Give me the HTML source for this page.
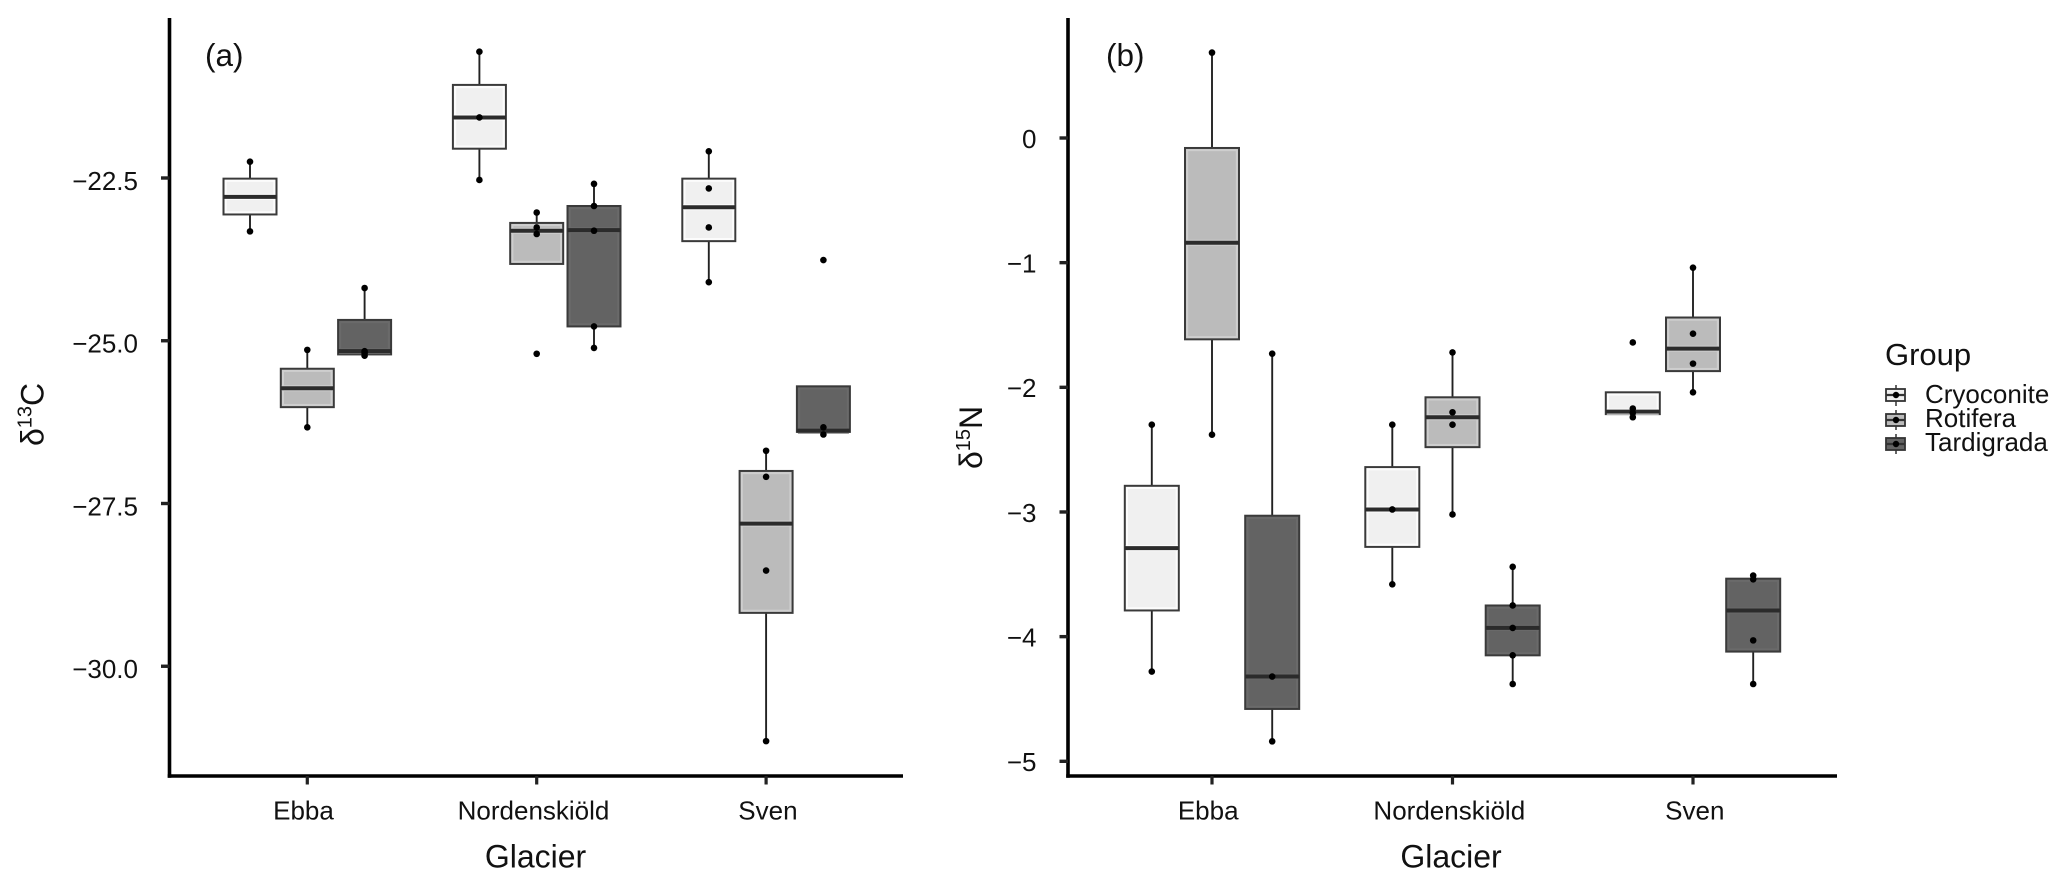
<!DOCTYPE html>
<html lang="en">
<head>
<meta charset="utf-8">
<title>Isotope boxplots by glacier</title>
<style>
  html, body { margin: 0; padding: 0; background: #fff; }
  #figure { display: block; width: 2067px; height: 887px; }
  text { font-family: "Liberation Sans", sans-serif; fill: #111; }
</style>
</head>
<body>
<svg id="figure" xmlns="http://www.w3.org/2000/svg" width="2067" height="887" viewBox="0 0 2067 887">
  <rect x="0" y="0" width="2067" height="887" fill="#ffffff"/>

  <g id="panel-a">
    <text x="205" y="66" font-size="31.5">(a)</text>
    <text transform="translate(43.5,446) rotate(-90)" font-size="32">δ<tspan font-size="20" dy="-12">13</tspan><tspan dy="12">C</tspan></text>
    <text x="535.5" y="867.5" font-size="32" text-anchor="middle">Glacier</text>
  </g>

  <g id="panel-b">
    <text x="1106" y="66" font-size="31.5">(b)</text>
    <text transform="translate(982,469) rotate(-90)" font-size="32">δ<tspan font-size="20" dy="-12">15</tspan><tspan dy="12">N</tspan></text>
    <text x="1451" y="867.5" font-size="32" text-anchor="middle">Glacier</text>
  </g>

  <g>
    <text x="1885" y="365" font-size="31">Group</text>
    <g>
      <line x1="1896" x2="1896" y1="385" y2="406" stroke="#333" stroke-width="1.5"/>
      <rect x="1886" y="389" width="19" height="12" fill="#f0f0f0" stroke="#333" stroke-width="1.8"/>
      <line x1="1886" x2="1905" y1="395" y2="395" stroke="#333" stroke-width="2.2"/>
      <circle cx="1896" cy="395" r="3.2" fill="#000"/>
      <text x="1925" y="403" font-size="26">Cryoconite</text>
    </g>
    <g>
      <line x1="1896" x2="1896" y1="410" y2="430" stroke="#333" stroke-width="1.5"/>
      <rect x="1886" y="414" width="19" height="12" fill="#bbbbbb" stroke="#333" stroke-width="1.8"/>
      <line x1="1886" x2="1905" y1="420" y2="420" stroke="#333" stroke-width="2.2"/>
      <circle cx="1896" cy="420" r="3.2" fill="#000"/>
      <text x="1925" y="427" font-size="26">Rotifera</text>
    </g>
    <g>
      <line x1="1896" x2="1896" y1="434" y2="454" stroke="#333" stroke-width="1.5"/>
      <rect x="1886" y="438" width="19" height="12" fill="#636363" stroke="#333" stroke-width="1.8"/>
      <line x1="1886" x2="1905" y1="444" y2="444" stroke="#333" stroke-width="2.2"/>
      <circle cx="1896" cy="444" r="3.2" fill="#000"/>
      <text x="1925" y="451" font-size="26">Tardigrada</text>
    </g>
  </g>
</svg>

<script>
// Shared categories (rows = glaciers, columns = groups)
const glaciers = ["Ebba", "Nordenskiöld", "Sven"];
const groups = ["Cryoconite", "Rotifera", "Tardigrada"];
const groupFills = ["#f0f0f0", "#bbbbbb", "#636363"];
const groupHalos = ["#fcfcfc", "#cecece", "#6a6a6a"];

// Panel (a): delta 13C
const carbonTicks = [-22.5, -25, -27.5, -30];
const carbonTickLabels = ["−22.5", "−25.0", "−27.5", "−30.0"];
const carbonWhiskerHigh = [[-22.25, -25.14, -24.19], [-20.56, -23.03, -22.59], [-22.09, -26.69, -25.70]];
const carbonQ3 = [[-22.51, -25.43, -24.68], [-21.07, -23.19, -22.93], [-22.51, -27.00, -25.70]];
const carbonMedian = [[-22.79, -25.73, -25.16], [-21.57, -23.31, -23.30], [-22.95, -27.81, -26.38]];
const carbonQ1 = [[-23.06, -26.02, -25.21], [-22.05, -23.82, -24.78], [-23.47, -29.18, -26.40]];
const carbonWhiskerLow = [[-23.32, -26.33, -25.21], [-22.53, -23.82, -25.11], [-24.10, -31.15, -26.40]];
const carbonPoints = [
  [[-22.25, -23.32], [-25.14, -26.33], [-24.19, -25.16, -25.19, -25.23]],
  [[-20.56, -21.57, -22.53], [-23.03, -23.26, -23.36, -25.20], [-22.59, -22.93, -23.31, -24.78, -25.11]],
  [[-22.09, -22.66, -23.26, -24.10], [-26.69, -27.09, -28.53, -31.15], [-23.76, -26.33, -26.44]]
];

// Panel (b): delta 15N
const nitrogenTicks = [0, -1, -2, -3, -4, -5];
const nitrogenTickLabels = ["0", "−1", "−2", "−3", "−4", "−5"];
const nitrogenWhiskerHigh = [[-2.30, 0.685, -1.73], [-2.30, -1.72, -3.44], [-2.04, -1.04, -3.51]];
const nitrogenQ3 = [[-2.79, -0.08, -3.03], [-2.64, -2.08, -3.75], [-2.04, -1.44, -3.535]];
const nitrogenMedian = [[-3.29, -0.84, -4.32], [-2.98, -2.24, -3.93], [-2.195, -1.69, -3.79]];
const nitrogenQ1 = [[-3.79, -1.615, -4.58], [-3.28, -2.48, -4.15], [-2.215, -1.87, -4.12]];
const nitrogenWhiskerLow = [[-4.28, -2.38, -4.84], [-3.58, -3.02, -4.38], [-2.215, -2.04, -4.38]];
const nitrogenPoints = [
  [[-2.30, -4.28], [0.685, -2.38], [-1.73, -4.32, -4.84]],
  [[-2.30, -2.98, -3.58], [-1.72, -2.20, -2.30, -3.02], [-3.44, -3.75, -3.93, -4.15, -4.38]],
  [[-1.64, -2.17, -2.205, -2.24], [-1.04, -1.57, -1.81, -2.04], [-3.51, -3.54, -4.03, -4.38]]
];

const SVG_NS = "http://www.w3.org/2000/svg";

function make(parent, tag, attrs) {
  const node = document.createElementNS(SVG_NS, tag);
  for (const key in attrs) node.setAttribute(key, attrs[key]);
  parent.appendChild(node);
  return node;
}

function slug(s) {
  return s.toLowerCase().replace(/ö/g, "o");
}

function drawPanel(opts) {
  const root = document.getElementById(opts.id);
  const p = opts.prefix;
  const xBand = (i) => opts.x0 + i * opts.xStep;
  const xDodge = (i, j) => xBand(i) + (j - 1) * opts.dodge;
  const y = (v) => opts.yRef + (opts.vRef - v) * opts.yPerUnit;
  const half = opts.boxWidth / 2;

  glaciers.forEach(function (glacier, i) {
    groups.forEach(function (group, j) {
      const id = p + "-" + slug(glacier) + "-" + slug(group);
      const cx = xDodge(i, j);
      const top = y(opts.q3[i][j]);
      const bottom = y(opts.q1[i][j]);
      const mid = y(opts.median[i][j]);
      const g = make(root, "g", {});
      
      

      const hi = make(g, "line", { x1: cx, x2: cx, y1: y(opts.whiskerHigh[i][j]), y2: top, stroke: "#222", "stroke-width": 1.9 });
      
      

      const lo = make(g, "line", { x1: cx, x2: cx, y1: bottom, y2: y(opts.whiskerLow[i][j]), stroke: "#222", "stroke-width": 1.9 });
      
      

      const box = make(g, "rect", { x: cx - half, y: top, width: opts.boxWidth, height: bottom - top, fill: groupFills[j], stroke: "#3a3a3a", "stroke-width": 2 });
      
      

      const inset = 2.2;
      const halo = make(g, "rect", { x: cx - half + inset, y: top + inset, width: opts.boxWidth - 2 * inset, height: Math.max(0, bottom - top - 2 * inset), fill: "none", stroke: groupHalos[j], "stroke-width": 2 });
      
      

      const medHalo = make(g, "line", { x1: cx - half + 1, x2: cx + half - 1, y1: mid, y2: mid, stroke: groupHalos[j], "stroke-width": 6 });
      
      

      const med = make(g, "line", { x1: cx - half, x2: cx + half, y1: mid, y2: mid, stroke: "#2b2b2b", "stroke-width": 4 });
      
      

      opts.points[i][j].forEach(function (v) {
        const dot = make(g, "circle", { cx: cx, cy: y(v), r: 3.3, fill: "#000" });
        
        
      });
    });
  });

  const yAxis = make(root, "line", { x1: opts.axisX, x2: opts.axisX, y1: 18, y2: opts.axisY + 1.8, stroke: "#000", "stroke-width": 3.6 });
  
  

  const xAxis = make(root, "line", { x1: opts.axisX - 1.8, x2: opts.axisEnd, y1: opts.axisY, y2: opts.axisY, stroke: "#000", "stroke-width": 3.6 });
  
  

  opts.ticks.forEach(function (v, k) {
    const tick = make(root, "line", { x1: opts.axisX - 8.5, x2: opts.axisX, y1: y(v), y2: y(v), stroke: "#222", "stroke-width": 3.4 });
    
    

    const label = make(root, "text", { x: opts.axisX - 31.5, y: y(v) + opts.labelDy, "font-size": 26, "text-anchor": "end" });
    label.textContent = opts.tickLabels[k];
    
    
  });

  const labelShift = [-3.8, -3.2, 1.8];
  glaciers.forEach(function (glacier, i) {
    const tick = make(root, "line", { x1: xBand(i), x2: xBand(i), y1: opts.axisY, y2: opts.axisY + 8.5, stroke: "#222", "stroke-width": 3.2 });
    
    

    const label = make(root, "text", { x: xBand(i) + labelShift[i], y: 819.5, "font-size": 26, "text-anchor": "middle" });
    label.textContent = glacier;
    
    
  });
}

drawPanel({
  id: "panel-a", prefix: "a",
  x0: 307.3, xStep: 229.4, dodge: 57.3, boxWidth: 53,
  yRef: 178, vRef: -22.5, yPerUnit: 65.1,
  axisX: 169.5, axisY: 776, axisEnd: 903, labelDy: 11.8,
  ticks: carbonTicks, tickLabels: carbonTickLabels,
  whiskerHigh: carbonWhiskerHigh, q3: carbonQ3, median: carbonMedian, q1: carbonQ1, whiskerLow: carbonWhiskerLow, points: carbonPoints
});

drawPanel({
  id: "panel-b", prefix: "b",
  x0: 1212, xStep: 240.5, dodge: 60.2, boxWidth: 54,
  yRef: 138, vRef: 0, yPerUnit: 124.66,
  axisX: 1068, axisY: 776, axisEnd: 1837, labelDy: 9.8,
  ticks: nitrogenTicks, tickLabels: nitrogenTickLabels,
  whiskerHigh: nitrogenWhiskerHigh, q3: nitrogenQ3, median: nitrogenMedian, q1: nitrogenQ1, whiskerLow: nitrogenWhiskerLow, points: nitrogenPoints
});
</script>
</body>
</html>
